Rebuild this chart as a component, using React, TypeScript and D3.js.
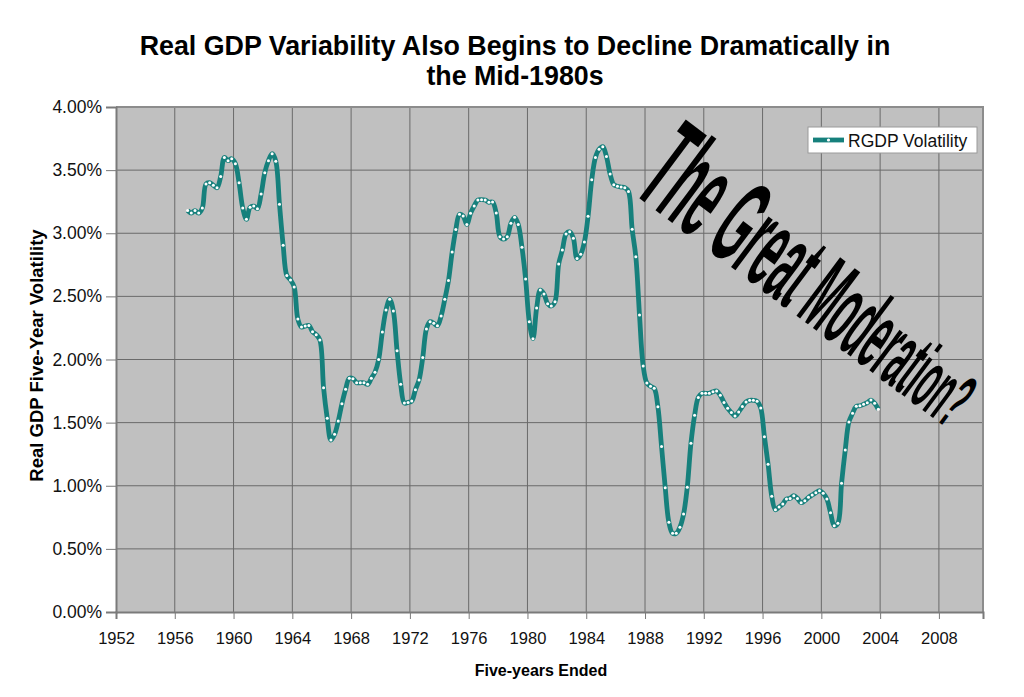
import { useEffect, useRef } from 'react'
import * as d3 from 'd3'

// quarterly five-year volatility of real GDP (percent), first obs ~1956 Q4
const firstQuarter = 1956.875
const rgdpVolatility = [
  3.18, 3.16, 3.18, 3.16, 3.2, 3.39, 3.4, 3.38, 3.36, 3.45,
  3.6, 3.575, 3.59, 3.55, 3.4, 3.2, 3.11, 3.205, 3.215, 3.195,
  3.31, 3.48, 3.575, 3.63, 3.57, 3.23, 2.905, 2.665, 2.63, 2.575,
  2.32, 2.257, 2.265, 2.27, 2.22, 2.197, 2.155, 1.777, 1.534, 1.362,
  1.407, 1.513, 1.65, 1.764, 1.851, 1.848, 1.816, 1.816, 1.816, 1.803,
  1.851, 1.9, 2.0, 2.218, 2.392, 2.477, 2.384, 2.07, 1.803, 1.655,
  1.66, 1.671, 1.761, 1.838, 2.015, 2.242, 2.3, 2.287, 2.268, 2.345,
  2.477, 2.625, 2.851, 3.03, 3.15, 3.137, 3.07, 3.158, 3.216, 3.263,
  3.266, 3.263, 3.245, 3.248, 3.16, 2.973, 2.954, 2.973, 3.079, 3.126,
  3.07, 2.889, 2.638, 2.3, 2.165, 2.408, 2.55, 2.519, 2.442, 2.424,
  2.458, 2.756, 2.867, 2.994, 3.012, 2.96, 2.8, 2.833, 2.93, 3.134,
  3.424, 3.6, 3.665, 3.686, 3.607, 3.469, 3.385, 3.372, 3.366, 3.361,
  3.33, 3.031, 2.814, 2.352, 1.949, 1.814, 1.788, 1.772, 1.626, 1.31,
  0.985, 0.71, 0.623, 0.623, 0.671, 0.776, 0.988, 1.336, 1.558, 1.7,
  1.732, 1.732, 1.732, 1.745, 1.75, 1.716, 1.66, 1.613, 1.58, 1.552,
  1.585, 1.627, 1.664, 1.677, 1.677, 1.669, 1.616, 1.389, 1.17, 0.916,
  0.81, 0.832, 0.855, 0.895, 0.9, 0.921, 0.9, 0.866, 0.882, 0.908,
  0.927, 0.945, 0.961, 0.94, 0.895, 0.787, 0.684, 0.703, 1.019, 1.283,
  1.505, 1.574, 1.629, 1.634, 1.645, 1.658, 1.679, 1.653, 1.606,
]
const yearTicks = d3.range(1952, 2009, 4)
const pctTicks = [0, 0.5, 1, 1.5, 2, 2.5, 3, 3.5, 4]

const titleLines = [
  'Real GDP Variability Also Begins to Decline Dramatically in',
  'the Mid-1980s',
]
const annotation = 'The Great Moderation?'

const TEAL = '#16807c'
const FONT = 'Liberation Sans, Arial, sans-serif'

export default function App() {
  const svgRef = useRef<SVGSVGElement>(null)
  const width = 1024
  const height = 697

  useEffect(() => {
    if (!svgRef.current) return
    const svg = d3.select(svgRef.current)
    svg.selectAll('*').remove()

    const left = 116, right = 983, top = 107, bottom = 612

    const x = d3.scaleLinear().domain([1952, 2011]).range([left, right])
    const y = d3.scaleLinear().domain([0, 4]).range([bottom, top])

    svg.append('rect').attr('width', width).attr('height', height).attr('fill', 'white')

    // plot area
    svg.append('rect')
      .attr('x', left).attr('y', top)
      .attr('width', right - left).attr('height', bottom - top)
      .attr('fill', '#c0c0c0')

    // grid
    const grid = svg.append('g')
    yearTicks.slice(1).forEach(t => {
      grid.append('line')
        .attr('x1', x(t)).attr('x2', x(t))
        .attr('y1', top).attr('y2', bottom)
        .attr('stroke', '#6a6a6a').attr('stroke-width', 1)
    })
    pctTicks.slice(1, -1).forEach(t => {
      grid.append('line')
        .attr('x1', left).attr('x2', right)
        .attr('y1', y(t)).attr('y2', y(t))
        .attr('stroke', '#6a6a6a').attr('stroke-width', 1)
    })
    // top / right border
    svg.append('path')
      .attr('d', `M${left},${top}H${right}V${bottom}`)
      .attr('fill', 'none').attr('stroke', '#8c8c8c').attr('stroke-width', 2)

    // axes
    const xAxis = svg.append('g')
      .attr('transform', `translate(0,${bottom})`)
      .call(d3.axisBottom(x).tickValues(yearTicks).tickFormat(d3.format('d')).tickSize(7).tickPadding(13))
    xAxis.select('.domain').attr('stroke', '#7a7a7a').attr('stroke-width', 2)
    xAxis.selectAll('.tick line').attr('stroke', '#7a7a7a')
    xAxis.selectAll('text').attr('font-family', FONT).attr('font-size', 16.5).attr('fill', '#111')

    const yAxis = svg.append('g')
      .attr('transform', `translate(${left},0)`)
      .call(d3.axisLeft(y).tickValues(pctTicks).tickFormat(d => (d as number).toFixed(2) + '%').tickSize(10).tickPadding(4))
    yAxis.select('.domain').attr('stroke', '#7a7a7a').attr('stroke-width', 2)
    yAxis.selectAll('.tick line').attr('stroke', '#7a7a7a')
    yAxis.selectAll('text').attr('font-family', FONT).attr('font-size', 17.5).attr('fill', '#111')

    // series
    const pts = rgdpVolatility.map((v, i) => ({ t: firstQuarter + i * 0.25, v }))
    const line = d3.line<{ t: number; v: number }>()
      .x(d => x(d.t)).y(d => y(d.v))
      .curve(d3.curveCatmullRom.alpha(0.5))
    svg.append('path')
      .datum(pts)
      .attr('d', line)
      .attr('fill', 'none')
      .attr('stroke', TEAL)
      .attr('stroke-width', 4.8)
      .attr('stroke-linejoin', 'round')
    svg.append('g').selectAll('circle')
      .data(pts)
      .join('circle')
      .attr('cx', d => x(d.t)).attr('cy', d => y(d.v))
      .attr('r', 1.5)
      .attr('fill', 'white')

    // annotation, shrinking along its baseline
    const chars = annotation.split('')
    const sizeScale = d3.scaleLinear().domain([0, chars.length - 1]).range([132, 80])
    const ann = svg.append('g')
      .attr('transform', 'translate(631,192) rotate(36.8) scale(0.34,1)')
      .append('text')
      .attr('font-family', FONT)
      .attr('font-weight', 'bold')
      .attr('fill', 'black')
      .style('white-space', 'pre')
    chars.forEach((c, i) => {
      ann.append('tspan').attr('font-size', sizeScale(i)).text(c)
    })

    // legend
    const lg = svg.append('g').attr('transform', 'translate(808,127)')
    lg.append('rect').attr('width', 169).attr('height', 26)
      .attr('fill', 'white').attr('stroke', '#9a9a9a').attr('stroke-width', 1)
    lg.append('line').attr('x1', 5).attr('x2', 36).attr('y1', 13).attr('y2', 13)
      .attr('stroke', TEAL).attr('stroke-width', 4.8)
    lg.append('circle').attr('cx', 20.5).attr('cy', 13).attr('r', 1.6).attr('fill', 'white')
    lg.append('text').attr('x', 40).attr('y', 19.5)
      .attr('font-family', FONT).attr('font-size', 17.5).attr('fill', '#111')
      .text('RGDP Volatility')

    // titles
    titleLines.forEach((s, i) => {
      svg.append('text')
        .attr('x', 515).attr('y', 55 + i * 30)
        .attr('text-anchor', 'middle')
        .attr('font-family', FONT).attr('font-size', 26.8).attr('font-weight', 'bold')
        .text(s)
    })
    svg.append('text')
      .attr('x', 541).attr('y', 676)
      .attr('text-anchor', 'middle')
      .attr('font-family', FONT).attr('font-size', 16).attr('font-weight', 'bold')
      .text('Five-years Ended')
    svg.append('text')
      .attr('transform', `translate(43,${(top + bottom) / 2 - 4}) rotate(-90)`)
      .attr('text-anchor', 'middle')
      .attr('font-family', FONT).attr('font-size', 18.5).attr('font-weight', 'bold')
      .text('Real GDP Five-Year Volatility')
  }, [])

  return (
    <svg
      ref={svgRef}
      width={width}
      height={height}
      style={{ position: 'absolute', left: 0, top: 0 }}
    />
  )
}
